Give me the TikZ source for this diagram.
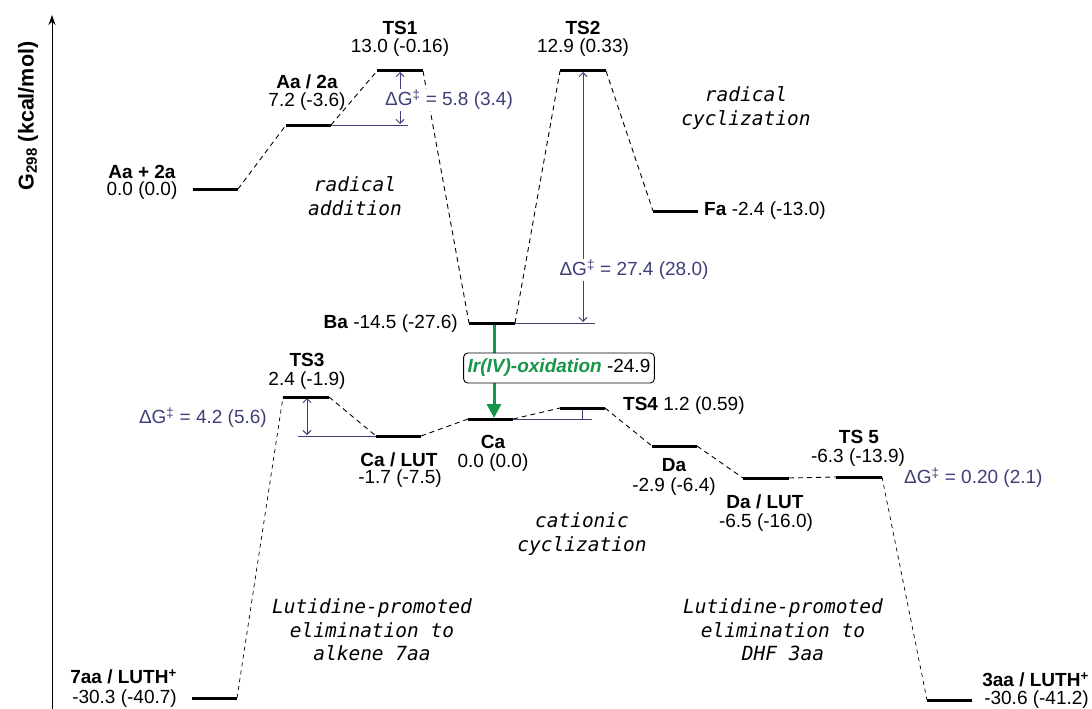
\documentclass[tikz,border=0pt]{standalone}
\usepackage{fontspec}
\setmainfont{Liberation Sans}
\newfontfamily\mitfont{DejaVu Sans Mono}
\usetikzlibrary{arrows.meta}
\definecolor{dgc}{RGB}{62,62,122}
\definecolor{oxg}{RGB}{22,150,72}
\newcommand\enlevel[4]{\coordinate (#1l) at (#2,#4); \coordinate (#1r) at (#3,#4);}
\newcommand\dg{ΔG\textsuperscript{‡}}
\begin{document}
\begin{tikzpicture}[x=1pt,y=-1pt,
  lbl/.style={font=\fontsize{19}{22}\selectfont, inner sep=1pt},
  blbl/.style={lbl, font=\bfseries\fontsize{19}{22}\selectfont},
  lev/.style={line width=3pt},
  conn/.style={dash pattern=on 5pt off 4pt, line width=0.9pt},
  dgl/.style={draw=dgc, line width=0.9pt},
  dga/.style={dgl, {Straight Barb[length=4pt,width=8pt]}-{Straight Barb[length=4pt,width=8pt]}},
  dgt/.style={lbl, text=dgc, fill=white},
  mech/.style={font=\mitfont\itshape\fontsize{19.5}{23.5}\selectfont, align=center}]
\useasboundingbox (0,0) rectangle (1092,709);
% axis
\coordinate (ax0) at (52,709);
\coordinate (ax1) at (52,15);
\draw[line width=1pt, -{Stealth[length=10pt,width=7pt]}] (ax0) -- (ax1);
\node[rotate=90, font=\bfseries\fontsize{21.5}{24}\selectfont] (ylab) at (28,116) {G\textsubscript{298} (kcal/mol)};
% levels
\enlevel{AA}{193}{238}{189}
\enlevel{AB}{286}{331}{125}
\enlevel{TSa}{377}{423}{71}
\enlevel{TSb}{560}{606}{71}
\enlevel{Fa}{653}{698}{211}
\enlevel{Ba}{469}{515}{323}
\enlevel{Ca}{468}{513}{419}
\enlevel{TSc}{283}{329}{397}
\enlevel{CaL}{376}{421}{436}
\enlevel{TSd}{560}{605}{408}
\enlevel{Da}{652}{697}{446}
\enlevel{DaL}{743}{789}{478}
\enlevel{TSe}{836}{882}{477}
\enlevel{Sa}{192}{237}{698}
\enlevel{Tha}{927}{972}{700}
% dashed connectors
\draw[conn] (AAr) -- (ABl);
\draw[conn] (ABr) -- (TSal);
\draw[conn] (TSar) -- (Bal);
\draw[conn] (Bar) -- (TSbl);
\draw[conn] (TSbr) -- (Fal);
\draw[conn, line width=0.7pt, dash pattern=on 4pt off 4pt] (Sar) -- (TScl);
\draw[conn] (TScr) -- (CaLl);
\draw[conn] (CaLr) -- (Cal);
\draw[conn] (Car) -- (TSdl);
\draw[conn] (TSdr) -- (Dal);
\draw[conn] (Dar) -- (DaLl);
\draw[conn] (DaLr) -- (TSel);
\draw[conn, line width=0.7pt, dash pattern=on 4pt off 4pt] (TSer) -- (Thal);
% barrier lines
\coordinate (b1e) at (408,125);
\coordinate (b1t) at (400,72);
\coordinate (b1b) at (400,124);
\draw[dgl] (ABr) -- (b1e);
\draw[dga] (b1b) -- (b1t);
\coordinate (b2e) at (595,323);
\coordinate (b2t) at (583,72);
\coordinate (b2b) at (583,322);
\draw[dgl] (Bar) -- (b2e);
\draw[dga] (b2b) -- (b2t);
\coordinate (b3s) at (298,436);
\coordinate (b3t) at (307,398);
\coordinate (b3b) at (307,435);
\draw[dgl] (b3s) -- (CaLl);
\draw[dga] (b3b) -- (b3t);
\coordinate (b4e) at (592,419);
\coordinate (b4t) at (582,409);
\coordinate (b4b) at (582,419);
\draw[dgl] (Car) -- (b4e);
\draw[dgl] (b4b) -- (b4t);
% barrier texts
\node[dgt] (g1) at (449,100) {\dg{} = 5.8 (3.4)};
\node[dgt] (g2) at (634,270) {\dg{} = 27.4 (28.0)};
\node[dgt, anchor=east] (g3) at (268,418) {\dg{} = 4.2 (5.6)};
\node[dgt, anchor=west] (g5) at (903,478) {\dg{} = 0.20 (2.1)};
% oxidation
\coordinate (oxa) at (494,324);
\coordinate (oxb) at (494,418);
\draw[oxg, line width=3pt, -{Triangle[length=14pt,width=14pt]}] (oxa) -- (oxb);
\node[draw, rounded corners=4pt, fill=white, line width=0.9pt, lbl, inner xsep=4pt, minimum height=30pt] (ox) at (559,368) {\textcolor{oxg}{\bfseries\itshape Ir(IV)-oxidation} -24.9};
% levels drawn
\foreach \n in {AA,AB,TSa,TSb,Fa,Ba,Ca,TSc,CaL,TSd,Da,DaL,TSe,Sa,Tha}
  \draw[lev] (\n l) -- (\n r);
% labels
\node[blbl] (tAA) at (142,172) {Aa + 2a};
\node[lbl] (vAA) at (142,191) {0.0 (0.0)};
\node[blbl] (tAB) at (307,82) {Aa / 2a};
\node[lbl] (vAB) at (307,102) {7.2 (-3.6)};
\node[blbl] (tTSa) at (400,28) {TS1};
\node[lbl] (vTSa) at (400,48) {13.0 (-0.16)};
\node[blbl] (tTSb) at (583,28) {TS2};
\node[lbl] (vTSb) at (583,48) {12.9 (0.33)};
\node[lbl, anchor=west] (tFa) at (703,211) {\textbf{Fa} -2.4 (-13.0)};
\node[lbl, anchor=east] (tBa) at (459,324) {\textbf{Ba} -14.5 (-27.6)};
\node[blbl] (tTSc) at (307,360) {TS3};
\node[lbl] (vTSc) at (307,381) {2.4 (-1.9)};
\node[blbl] (tCaL) at (399,460) {Ca / LUT};
\node[lbl] (vCaL) at (400,479) {-1.7 (-7.5)};
\node[blbl] (tCa) at (493,442) {Ca};
\node[lbl] (vCa) at (493,463) {0.0 (0.0)};
\node[lbl, anchor=west] (tTSd) at (622,406) {\textbf{TS4} 1.2 (0.59)};
\node[blbl] (tDa) at (674,465) {Da};
\node[lbl] (vDa) at (674,487) {-2.9 (-6.4)};
\node[blbl] (tDaL) at (765,502) {Da / LUT};
\node[lbl] (vDaL) at (766,523) {-6.5 (-16.0)};
\node[blbl] (tTSe) at (859,437) {TS 5};
\node[lbl] (vTSe) at (858,458) {-6.3 (-13.9)};
\node[blbl, anchor=east] (tSa) at (178,677) {7aa / LUTH\textsuperscript{+}};
\node[lbl, anchor=east] (vSa) at (178,699) {-30.3 (-40.7)};
\node[blbl, anchor=east] (tTha) at (1090,680) {3aa / LUTH\textsuperscript{+}};
\node[lbl, anchor=east] (vTha) at (1090,700) {-30.6 (-41.2)};
% mechanism labels
\node[mech] (m1) at (355,196) {radical\\addition};
\node[mech] (m2) at (746,108) {radical\\cyclization};
\node[mech] (m3) at (582,534) {cationic\\cyclization};
\node[mech] (m4) at (372,630) {Lutidine-promoted\\elimination to\\alkene 7aa};
\node[mech] (m5) at (783,630) {Lutidine-promoted\\elimination to\\DHF 3aa};
\end{tikzpicture}
\end{document}
